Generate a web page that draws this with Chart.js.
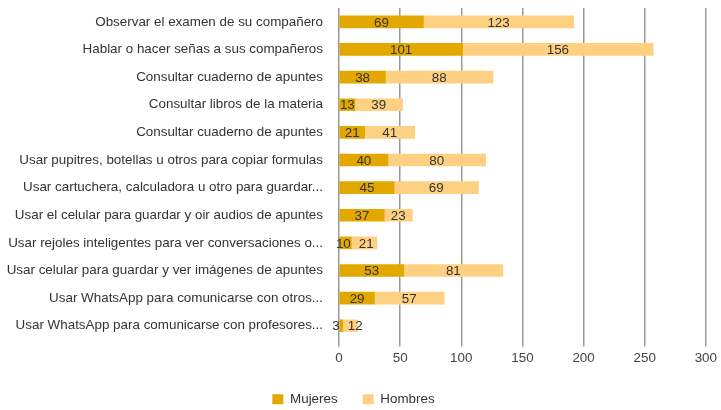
<!DOCTYPE html>
<html>
<head>
<meta charset="utf-8">
<script src="https://cdn.jsdelivr.net/npm/chart.js@4"></script>
<style>
  html, body { margin: 0; padding: 0; background: #fff; }
  #wrap { width: 721px; height: 410px; }
</style>
</head>
<body>
<div id="wrap"><canvas id="chart"></canvas></div>
<script>
const categories = [
    "Observar el examen de su compañero",
    "Hablar o hacer señas a sus compañeros",
    "Consultar cuaderno de apuntes",
    "Consultar libros de la materia",
    "Consultar cuaderno de apuntes",
    "Usar pupitres, botellas u otros para copiar formulas",
    "Usar cartuchera, calculadora u otro para guardar...",
    "Usar el celular para guardar y oir audios de apuntes",
    "Usar rejoles inteligentes para ver conversaciones o...",
    "Usar celular para guardar y ver imágenes de apuntes",
    "Usar WhatsApp para comunicarse con otros...",
    "Usar WhatsApp para comunicarse con profesores..."
];
const mujeres = [69, 101, 38, 13, 21, 40, 45, 37, 10, 53, 29, 3];
const hombres = [123, 156, 88, 39, 41, 80, 69, 23, 21, 81, 57, 12];
const xTicks = [0, 50, 100, 150, 200, 250, 300];

const FONT = "'Liberation Sans', Arial, sans-serif";
const FS = 13.4;

// value in the middle of each segment, pushed apart when two labels collide
const barLabels = {
    id: "barLabels",
    afterDatasetsDraw(chart) {
        const ctx = chart.ctx;
        ctx.save();
        ctx.font = FS + "px " + FONT;
        ctx.fillStyle = "#333";
        ctx.textAlign = "center";
        ctx.textBaseline = "middle";
        const m0 = chart.getDatasetMeta(0).data;
        const m1 = chart.getDatasetMeta(1).data;
        m0.forEach((b0, j) => {
            const b1 = m1[j];
            const t0 = String(chart.data.datasets[0].data[j]);
            const t1 = String(chart.data.datasets[1].data[j]);
            let x0 = (b0.x + b0.base) / 2;
            let x1 = (b1.x + b1.base) / 2;
            const need = (ctx.measureText(t0).width + ctx.measureText(t1).width) / 2 + 8;
            if (x1 - x0 < need) {
                const d = (need - (x1 - x0)) / 2;
                x0 -= d;
                x1 += d;
            }
            ctx.fillText(t0, x0, b0.y + 1);
            ctx.fillText(t1, x1, b1.y + 1);
        });
        ctx.restore();
    }
};

const ctx = document.getElementById("chart").getContext("2d");
new Chart(ctx, {
    type: "bar",
    data: {
        labels: categories,
        datasets: [
            { label: "Mujeres", data: mujeres, backgroundColor: "#e2a800", barThickness: 12 },
            { label: "Hombres", data: hombres, backgroundColor: "#fed182", barThickness: 12 }
        ]
    },
    options: {
        indexAxis: "y",
        responsive: true,
        maintainAspectRatio: false,
        animation: false,
        layout: { padding: { top: 8, right: 14, left: 0, bottom: -6 } },
        plugins: {
            legend: {
                position: "bottom",
                labels: {
                    boxWidth: 11,
                    boxHeight: 10,
                    padding: 25,
                    color: "#333",
                    font: { family: FONT, size: FS }
                }
            },
            tooltip: { enabled: false }
        },
        scales: {
            x: {
                stacked: true,
                min: 0,
                max: 300,
                afterBuildTicks: (s) => { s.ticks = xTicks.map(v => ({ value: v })); },
                afterFit: (s) => { s.height = 28; },
                grid: { color: "#9a9a9a", lineWidth: 1.5, tickLength: 7 },
                border: { display: false },
                ticks: { color: "#444", padding: 4, font: { family: FONT, size: FS } }
            },
            y: {
                stacked: true,
                afterFit: (s) => { s.width = 339; s.paddingTop = 0; s.paddingBottom = 0; },
                grid: { display: false, drawTicks: false },
                border: { display: false },
                ticks: { color: "#333", padding: 16, font: { family: FONT, size: FS } }
            }
        }
    },
    plugins: [barLabels]
});
</script>
</body>
</html>
